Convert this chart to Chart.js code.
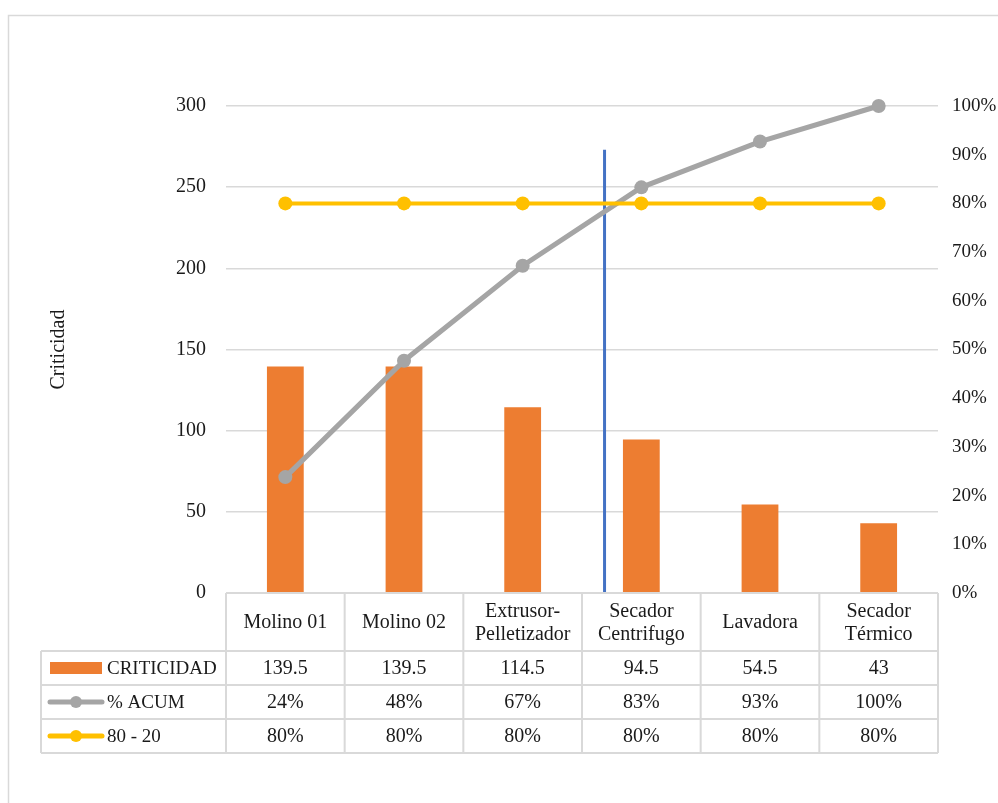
<!DOCTYPE html>
<html>
<head>
<meta charset="utf-8">
<script src="https://cdn.jsdelivr.net/npm/chart.js@4"></script>
<style>
  html, body { margin: 0; padding: 0; background: #fff; }
  #wrap { width: 998px; height: 803px; position: relative; overflow: hidden; }
</style>
</head>
<body>
<div id="wrap"><canvas id="pareto" width="998" height="803"></canvas></div>
<script>
// Datos del diagrama de Pareto
const categorias = ['Molino 01', 'Molino 02', ['Extrusor-', 'Pelletizador'], ['Secador', 'Centrifugo'], 'Lavadora', ['Secador', 'Térmico']];
const criticidad = [139.5, 139.5, 114.5, 94.5, 54.5, 43];
const acumulado = [23.8, 47.7, 67.2, 83.3, 92.7, 100];
const linea8020 = [80, 80, 80, 80, 80, 80];
const ticksIzq = [0, 50, 100, 150, 200, 250, 300];
const ticksDer = [0, 10, 20, 30, 40, 50, 60, 70, 80, 90, 100];
// línea de corte (posición en el eje de categorías y altura en el eje izquierdo)
const corteCategoria = 2.69;
const corteAltura = 273;

const FUENTE = "'Liberation Serif', 'Times New Roman', serif";
const colores = {
    barra: '#ED7D31',
    acum: '#A5A5A5',
    regla: '#FFC000',
    corte: '#4472C4',
    borde: '#D9D9D9',
    texto: '#1a1a1a'
};

const marcoPlugin = {
    id: 'marco',
    beforeDraw(chart) {
        const ctx = chart.ctx;
        ctx.save();
        ctx.strokeStyle = colores.borde;
        ctx.lineWidth = 1.5;
        ctx.beginPath();
        ctx.moveTo(8.5, chart.height);
        ctx.lineTo(8.5, 15.5);
        ctx.lineTo(chart.width, 15.5);
        ctx.stroke();
        ctx.restore();
    }
};

const cortePlugin = {
    id: 'corte',
    beforeDatasetsDraw(chart) {
        const ctx = chart.ctx;
        const x = chart.scales.x.getPixelForValue(corteCategoria);
        const y0 = chart.scales.y.getPixelForValue(0);
        const y1 = chart.scales.y.getPixelForValue(corteAltura);
        ctx.save();
        ctx.strokeStyle = colores.corte;
        ctx.lineWidth = 3;
        ctx.beginPath();
        ctx.moveTo(x, y0);
        ctx.lineTo(x, y1);
        ctx.stroke();
        ctx.restore();
    }
};

const tablaPlugin = {
    id: 'tabla',
    afterDraw(chart) {
        const ctx = chart.ctx;
        const xs = chart.scales.x;
        const area = chart.chartArea;
        const n = categorias.length;
        const bordes = [];
        for (let i = 0; i <= n; i++) bordes.push(xs.getPixelForValue(i - 0.5));
        const top = area.bottom;
        const altoCab = 58;
        const altoFila = 34;
        const izq = 41;
        const filas = [top + altoCab, top + altoCab + altoFila, top + altoCab + 2 * altoFila, top + altoCab + 3 * altoFila];

        ctx.save();
        ctx.strokeStyle = colores.borde;
        ctx.lineWidth = 2;
        ctx.beginPath();
        // líneas horizontales
        ctx.moveTo(bordes[0], top); ctx.lineTo(bordes[n], top);
        filas.forEach(y => { ctx.moveTo(izq, y); ctx.lineTo(bordes[n], y); });
        // líneas verticales
        bordes.forEach(x => { ctx.moveTo(x, top); ctx.lineTo(x, filas[3]); });
        ctx.moveTo(izq, filas[0]); ctx.lineTo(izq, filas[3]);
        ctx.stroke();

        ctx.fillStyle = colores.texto;
        ctx.font = '20px ' + FUENTE;
        ctx.textAlign = 'center';
        ctx.textBaseline = 'middle';

        // encabezados
        categorias.forEach((c, i) => {
            const cx = xs.getPixelForValue(i);
            const lineas = Array.isArray(c) ? c : [c];
            const cy = top + altoCab / 2;
            lineas.forEach((t, k) => {
                ctx.fillText(t, cx, cy + 1 + (k - (lineas.length - 1) / 2) * 23);
            });
        });

        // valores
        const valores = [
            criticidad.map(v => String(v)),
            acumulado.map(v => Math.round(v) + '%'),
            linea8020.map(v => v + '%')
        ];
        valores.forEach((fila, r) => {
            const cy = filas[r] + altoFila / 2 + 1;
            fila.forEach((t, i) => ctx.fillText(t, xs.getPixelForValue(i), cy));
        });

        // claves de leyenda
        const nombres = ['CRITICIDAD', '% ACUM', '80 - 20'];
        ctx.textAlign = 'left';
        ctx.font = '19px ' + FUENTE;
        nombres.forEach((t, r) => {
            const cy = filas[r] + altoFila / 2;
            if (r === 0) {
                ctx.fillStyle = colores.barra;
                ctx.fillRect(50, cy - 6, 52, 12);
            } else {
                const col = r === 1 ? colores.acum : colores.regla;
                ctx.strokeStyle = col;
                ctx.lineWidth = 5;
                ctx.lineCap = 'round';
                ctx.beginPath();
                ctx.moveTo(50, cy); ctx.lineTo(102, cy);
                ctx.stroke();
                ctx.fillStyle = col;
                ctx.beginPath();
                ctx.arc(76, cy, 6, 0, Math.PI * 2);
                ctx.fill();
            }
            ctx.fillStyle = colores.texto;
            ctx.fillText(t, 107, cy + 1);
        });
        ctx.restore();
    }
};

new Chart(document.getElementById('pareto'), {
    type: 'bar',
    data: {
        labels: categorias,
        datasets: [{
            label: 'CRITICIDAD',
            data: criticidad,
            backgroundColor: colores.barra,
            barPercentage: 0.31,
            categoryPercentage: 1,
            yAxisID: 'y',
            order: 3
        }, {
            type: 'line',
            label: '% ACUM',
            data: acumulado,
            borderColor: colores.acum,
            backgroundColor: colores.acum,
            borderWidth: 5,
            pointRadius: 7,
            pointBackgroundColor: colores.acum,
            pointBorderWidth: 0,
            tension: 0,
            clip: false,
            yAxisID: 'y1',
            order: 2
        }, {
            type: 'line',
            label: '80 - 20',
            data: linea8020,
            borderColor: colores.regla,
            backgroundColor: colores.regla,
            borderWidth: 4,
            pointRadius: 7,
            pointBackgroundColor: colores.regla,
            pointBorderWidth: 0,
            clip: false,
            yAxisID: 'y1',
            order: 1
        }]
    },
    options: {
        responsive: false,
        animation: false,
        layout: { padding: { left: 0, right: 0, top: 106, bottom: 210 } },
        plugins: {
            legend: { display: false },
            tooltip: { enabled: false }
        },
        scales: {
            x: {
                display: false,
                offset: true
            },
            y: {
                position: 'left',
                min: 0,
                max: 300,
                afterBuildTicks: s => { s.ticks = ticksIzq.map(v => ({ value: v })); },
                afterFit: s => { s.width = 226; },
                grid: { color: colores.borde, lineWidth: 1.5, drawTicks: false },
                border: { display: false },
                ticks: {
                    color: colores.texto,
                    padding: 20,
                    font: { family: FUENTE, size: 20 }
                },
                title: {
                    display: true,
                    text: 'Criticidad',
                    color: colores.texto,
                    font: { family: FUENTE, size: 20 },
                    padding: { top: 47 }
                }
            },
            y1: {
                position: 'right',
                min: 0,
                max: 100,
                afterBuildTicks: s => { s.ticks = ticksDer.map(v => ({ value: v })); },
                afterFit: s => { s.width = 60; },
                grid: { display: false, drawTicks: false },
                border: { display: false },
                ticks: {
                    color: colores.texto,
                    padding: 14,
                    font: { family: FUENTE, size: 19 },
                    callback: v => v + '%'
                }
            }
        }
    },
    plugins: [marcoPlugin, cortePlugin, tablaPlugin]
});
</script>
</body>
</html>
